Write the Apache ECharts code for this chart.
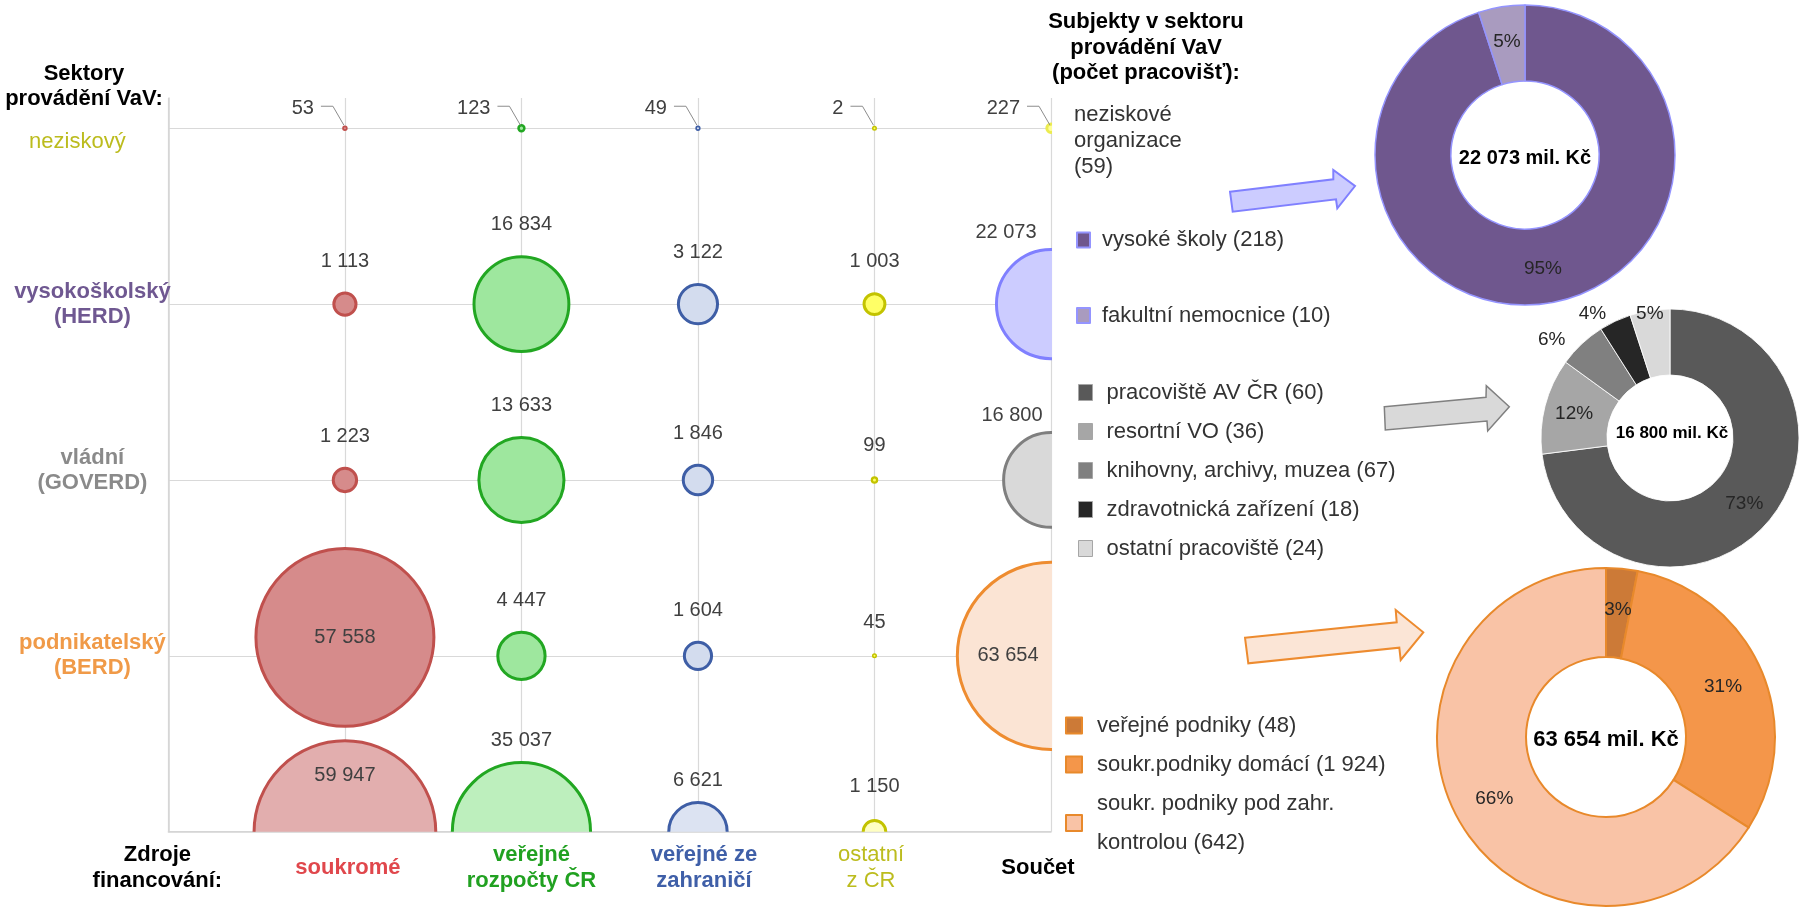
<!DOCTYPE html>
<html>
<head>
<meta charset="utf-8">
<script src="https://cdn.jsdelivr.net/npm/echarts@6/dist/echarts.min.js"></script>
<style>
  html, body { margin: 0; padding: 0; background: #fff; }
  #chart { width: 1800px; height: 909px; }
</style>
</head>
<body>
<div id="chart"></div>
<script>
// Výdaje na VaV podle sektoru provádění (řádky) a zdroje financování (sloupce), mil. Kč
const sektory = ['neziskový', 'vysokoškolský\n(HERD)', 'vládní\n(GOVERD)', 'podnikatelský\n(BERD)'];
const zdrojeNadpis = 'Zdroje\nfinancování:';
const zdroje = ['soukromé', 'veřejné\nrozpočty ČR', 'veřejné ze\nzahraničí', 'ostatní\nz ČR', 'Součet'];

const soukrome = [53, 1113, 1223, 57558];
const verejneCR = [123, 16834, 13633, 4447];
const verejneZahranici = [49, 3122, 1846, 1604];
const ostatniCR = [2, 1003, 99, 45];
const soucet = [227, 22073, 16800, 63654];
const celkemZaZdroj = [59947, 35037, 6621, 1150];

// Subjekty v sektorech (podíly na výdajích sektoru, %)
const herdNazvy = ['vysoké školy (218)', 'fakultní nemocnice (10)'];
const herdPodily = [95, 5];
const goverdNazvy = ['pracoviště AV ČR (60)', 'resortní VO (36)', 'knihovny, archivy, muzea (67)', 'zdravotnická zařízení (18)', 'ostatní pracoviště (24)'];
const goverdPodily = [73, 12, 6, 4, 5];
const berdNazvy = ['veřejné podniky (48)', 'soukr.podniky domácí (1 924)', 'soukr. podniky pod zahr.\nkontrolou (642)'];
const berdPodily = [3, 31, 66];
const neziskoveText = 'neziskové\norganizace\n(59)';

const F = 'Liberation Sans, Arial, sans-serif';
const fmt = v => String(v).replace(/\B(?=(\d{3})+(?!\d))/g, ' ');

// poloměr bubliny úměrný odmocnině hodnoty (plocha ~ hodnota)
const K = 0.3772;

// barvy podle zdroje financování (výplň, obrys, světlá výplň pro souhrnný řádek)
const barvyZdroju = [
  { fill: '#d68b8b', stroke: '#c0504d', light: '#e2aeae' },
  { fill: '#9ee79e', stroke: '#22a722', light: '#bdefbd' },
  { fill: '#d3dcee', stroke: '#3e5ea6', light: '#dce3f2' },
  { fill: '#ffff66', stroke: '#c3c300', light: '#ffffc2' }
];
// barvy součtového sloupce podle sektoru
const barvySoucet = [
  { fill: '#ffff99', stroke: '#ecec50' },
  { fill: '#ccccff', stroke: '#8080ff' },
  { fill: '#d9d9d9', stroke: '#7f7f7f' },
  { fill: '#fbe4d4', stroke: '#ee8c30' }
];

// úpravy umístění popisků jednotlivých bublin
const popisky = {
  '1-1': { inside: true },
  '5-1': { inside: true, dx: -43 },
  '5-3': { dx: -45, gap: 15.6 },
  '5-2': { dx: -39, gap: 16 },
  '1-0': { inside: true, dy: -56.7 },
  '2-0': { gap: 21 },
  '3-0': { gap: 21 },
  '4-0': { gap: 32 }
};
// velká bublina soukromých zdrojů v BERD je mírně posunuta nahoru, aby se nepřekrývala se součtovým řádkem
const posunY = { '1-1': 0.105 };

// data bublin: [sloupec, řádek, hodnota, index sektoru]
const sloupce = [soukrome, verejneCR, verejneZahranici, ostatniCR, soucet];
const bubliny = [];
sektory.forEach((s, i) => {
  sloupce.forEach((arr, j) => bubliny.push([j + 1, 4 - i, arr[i], i]));
});
celkemZaZdroj.forEach((v, j) => bubliny.push([j + 1, 0, v, -1]));

function barva(x, sektor) {
  if (x === 5) return barvySoucet[sektor];
  const b = barvyZdroju[x - 1];
  return sektor < 0 ? { fill: b.light, stroke: b.stroke } : b;
}

function renderBubble(params, api) {
  const x = api.value(0), y = api.value(1), v = api.value(2), sektor = api.value(3);
  const key = x + '-' + y;
  const p = api.coord([x, y + (posunY[key] || 0)]);
  const rOut = Math.max(2.5, K * Math.sqrt(v));
  const lw = Math.min(3, rOut * 0.6);
  const c = barva(x, sektor);
  const txtStyle = { text: fmt(v), fill: '#404040', fontSize: 20, fontFamily: F, verticalAlign: 'middle' };
  const children = [{
    type: 'circle', z2: 1,
    shape: { cx: p[0], cy: p[1], r: rOut - lw / 2 },
    style: { fill: c.fill, stroke: c.stroke, lineWidth: lw }
  }];
  if (y === 4) {
    children.push({
      type: 'polyline', z2: 5,
      shape: { points: [[p[0] - 24, p[1] - 22], [p[0] - 12, p[1] - 22], [p[0] - 1, p[1] - 3]] },
      style: { stroke: '#8c8c8c', fill: null, lineWidth: 1 }
    });
    children.push({ type: 'text', z2: 10, x: p[0] - 31, y: p[1] - 20, style: Object.assign({ align: 'right' }, txtStyle) });
  } else {
    const o = popisky[key] || {};
    const tx = p[0] + (o.dx || 0);
    const ty = o.inside ? p[1] + (o.dy || 0) : p[1] - rOut - (o.gap != null ? o.gap : 30.5);
    children.push({ type: 'text', z2: 10, x: tx, y: ty, style: Object.assign({ align: 'center' }, txtStyle) });
  }
  return { type: 'group', children };
}

// popisky osy x (zdroje financování)
const xPopisky = [zdrojeNadpis].concat(zdroje);
const xBarvy = ['#000', '#e0474c', '#21a121', '#3f5fa8', '#bcbc1e', '#000'];
const xTucne = [true, true, true, true, false, true];
const xPosun = [-11, 3, 10, 6, -3.5, -13];
const xRich = {};
xPopisky.forEach((t, i) => {
  const s = xPosun[i];
  xRich['x' + i] = {
    color: xBarvy[i], fontSize: 22, fontFamily: F, lineHeight: 26,
    fontWeight: xTucne[i] ? 'bold' : 'normal',
    padding: s > 0 ? [0, 0, 0, 2 * s] : [0, -2 * s, 0, 0]
  };
});

// popisky osy y (sektory)
const yBarvy = ['#bcbc1e', '#6f5891', '#8a8a8a', '#f09a48'];
const yRich = {
  s0: { color: yBarvy[0], fontSize: 22, fontFamily: F, lineHeight: 25, fontWeight: 'normal', padding: [27, 30, 0, 0] },
  s1: { color: yBarvy[1], fontSize: 22, fontFamily: F, lineHeight: 25, fontWeight: 'bold' },
  s2: { color: yBarvy[2], fontSize: 22, fontFamily: F, lineHeight: 25, fontWeight: 'bold' },
  s3: { color: yBarvy[3], fontSize: 22, fontFamily: F, lineHeight: 25, fontWeight: 'bold' },
  mezera: { fontSize: 1, lineHeight: 19 }
};

function isInt(v) { return Math.abs(v - Math.round(v)) < 1e-6; }

const pieLabel = { position: 'inside', formatter: '{c}%', color: '#262626', fontSize: 19, fontFamily: F };
const legendText = (pad, lh) => ({ fontSize: 22, fontFamily: F, color: '#333', lineHeight: lh, padding: [0, 0, 0, pad] });

// posuny popisků malých výsečí vládního sektoru
const goverdPosun = { 2: [-50.6, -26.3], 3: [-35.4, -34.4], 4: [-4.7, -26.5] };

const option = {
  animation: false,
  backgroundColor: '#fff',
  grid: { left: 168.4, right: 749, top: 98, bottom: 77.3, containLabel: false, outerBoundsMode: 'none' },
  xAxis: {
    type: 'value', min: 0, max: 5, interval: 1,
    axisLine: { show: true, lineStyle: { color: '#d4d4d4', width: 1.5 } },
    axisTick: { show: false },
    splitLine: { show: true, lineStyle: { color: '#d9d9d9', width: 1.2 } },
    axisLabel: {
      margin: 36, verticalAlign: 'middle', align: 'center',
      formatter: v => {
        if (!isInt(v)) return '';
        const i = Math.round(v);
        return xPopisky[i].split('\n').map(l => '{x' + i + '|' + l + '}').join('\n');
      },
      rich: xRich
    }
  },
  yAxis: {
    type: 'value', min: 0, max: 4.172, interval: 1,
    axisLine: { show: true, lineStyle: { color: '#d4d4d4', width: 1.5 } },
    axisTick: { show: false },
    splitLine: {
      show: true, showMaxLine: false,
      lineStyle: { color: ['#d9d9d9', '#d9d9d9', '#d9d9d9', '#d9d9d9', '#d9d9d9', 'rgba(0,0,0,0)'], width: 1.2 }
    },
    axisLabel: {
      margin: 76, align: 'center', verticalAlign: 'middle',
      formatter: v => {
        if (!isInt(v)) return '';
        const r = Math.round(v);
        if (r < 1 || r > 4) return '';
        const i = 4 - r;
        let s = sektory[i].split('\n').map(l => '{s' + i + '|' + l + '}').join('\n');
        // vládní sektor: popisek o něco výš
        if (i === 2) s += '\n{mezera| }';
        return s;
      },
      rich: yRich
    }
  },
  legend: [
    {
      data: herdNazvy, orient: 'vertical', left: 1076, top: 227, icon: 'rect', padding: 0,
      itemWidth: 13, itemHeight: 15, itemGap: 49.5, selectedMode: false,
      textStyle: legendText(7, 26)
    },
    {
      data: goverdNazvy, orient: 'vertical', left: 1078, top: 379.5, icon: 'rect', padding: 0,
      itemWidth: 14, itemHeight: 16, itemGap: 13, selectedMode: false,
      itemStyle: { borderColor: '#a6a6a6', borderWidth: 1 },
      textStyle: legendText(9, 26)
    },
    {
      data: berdNazvy, orient: 'vertical', left: 1065, top: 706, icon: 'rect', padding: 0,
      itemWidth: 16, itemHeight: 16, itemGap: 0, selectedMode: false,
      textStyle: legendText(10, 39)
    }
  ],
  series: [
    {
      type: 'custom', name: 'bubliny', clip: true, silent: true,
      renderItem: renderBubble,
      encode: { x: 0, y: 1 },
      data: bubliny
    },
    {
      type: 'pie', name: 'HERD', center: [1525, 155], radius: [74, 150],
      startAngle: 90, clockwise: true, silent: true, avoidLabelOverlap: false,
      color: ['#6f578e', '#a99bbf'],
      itemStyle: { borderColor: '#9494ff', borderWidth: 1.5 },
      label: pieLabel, labelLine: { show: false },
      data: herdNazvy.map((n, i) => ({ name: n, value: herdPodily[i] }))
    },
    {
      type: 'pie', name: 'GOVERD', center: [1670, 438], radius: [63, 129],
      startAngle: 90, clockwise: true, silent: true, avoidLabelOverlap: false,
      color: ['#595959', '#a6a6a6', '#808080', '#262626', '#d9d9d9'],
      itemStyle: { borderColor: 'rgba(255,255,255,0.85)', borderWidth: 1 },
      label: pieLabel, labelLine: { show: false },
      labelLayout: p => {
        const d = goverdPosun[p.dataIndex];
        return d ? { dx: d[0], dy: d[1] } : {};
      },
      data: goverdNazvy.map((n, i) => ({ name: n, value: goverdPodily[i] }))
    },
    {
      type: 'pie', name: 'BERD', center: [1606, 737], radius: [80, 169],
      startAngle: 90, clockwise: true, silent: true, avoidLabelOverlap: false,
      color: ['#cc7a37', '#f4964a', '#f9c3a6'],
      itemStyle: { borderColor: '#e8892b', borderWidth: 2 },
      label: pieLabel, labelLine: { show: false },
      data: berdNazvy.map((n, i) => ({ name: n, value: berdPodily[i] }))
    }
  ],
  graphic: [
    {
      type: 'text', x: 84, y: 86,
      style: { text: 'Sektory\nprovádění VaV:', align: 'center', verticalAlign: 'middle', fill: '#000',
               font: 'bold 22px ' + F, lineHeight: 25 }
    },
    {
      type: 'text', x: 1146, y: 47.5,
      style: { text: 'Subjekty v sektoru\nprovádění VaV\n(počet pracovišť):', align: 'center', verticalAlign: 'middle', fill: '#000',
               font: 'bold 22px ' + F, lineHeight: 25.8 }
    },
    {
      type: 'text', x: 1074, y: 141,
      style: { text: neziskoveText, align: 'left', verticalAlign: 'middle', fill: '#333',
               font: '22px ' + F, lineHeight: 25.8 }
    },
    {
      type: 'text', x: 1525, y: 158,
      style: { text: fmt(soucet[1]) + ' mil. Kč', align: 'center', verticalAlign: 'middle', fill: '#000', font: 'bold 20px ' + F }
    },
    {
      type: 'text', x: 1672, y: 433,
      style: { text: fmt(soucet[2]) + ' mil. Kč', align: 'center', verticalAlign: 'middle', fill: '#000', font: 'bold 17px ' + F }
    },
    {
      type: 'text', x: 1606, y: 740,
      style: { text: fmt(soucet[3]) + ' mil. Kč', align: 'center', verticalAlign: 'middle', fill: '#000', font: 'bold 22px ' + F }
    },
    // šipky od součtu sektoru ke struktuře subjektů
    {
      type: 'polygon',
      shape: { points: [[1230, 191.7], [1333.3, 179.3], [1333.3, 170], [1355, 186], [1337.3, 208.3], [1336, 199.3], [1232.7, 211.7]] },
      style: { fill: '#ccccff', stroke: '#8080ff', lineWidth: 2 }
    },
    {
      type: 'polygon',
      shape: { points: [[1384.3, 406.7], [1486, 397.3], [1486.3, 385.7], [1509.3, 406.7], [1487.7, 431], [1487, 421], [1385.3, 430]] },
      style: { fill: '#d9d9d9', stroke: '#808080', lineWidth: 1.5 }
    },
    {
      type: 'polygon',
      shape: { points: [[1245, 637.7], [1396.7, 622.3], [1395.7, 610], [1423.3, 632.3], [1400.7, 660], [1399.3, 647.7], [1248.3, 663.3]] },
      style: { fill: '#fbe5d6', stroke: '#ed8b2f', lineWidth: 2 }
    }
  ]
};

const chart = echarts.init(document.getElementById('chart'), null, { renderer: 'canvas' });
chart.setOption(option);
</script>
</body>
</html>
